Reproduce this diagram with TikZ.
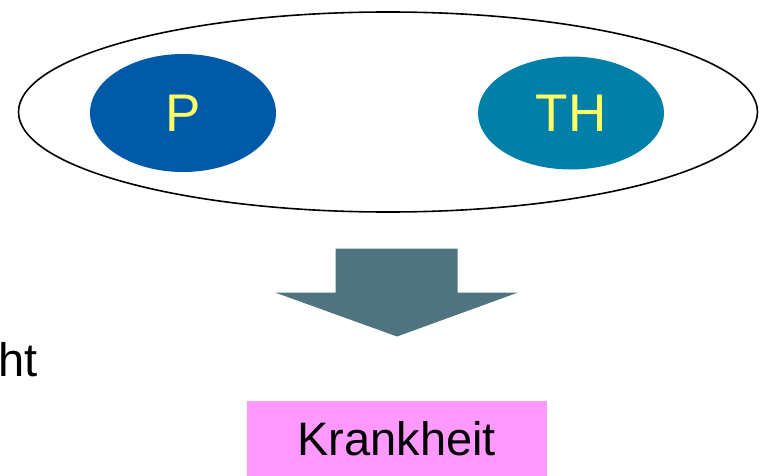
\documentclass[tikz,border=0pt]{standalone}
\usepackage{fontspec}
\setmainfont{Liberation Sans}
\usetikzlibrary{shapes.geometric}
\definecolor{pblue}{HTML}{005AA8}
\definecolor{thteal}{HTML}{007FA8}
\definecolor{arrowgray}{HTML}{4F7480}
\definecolor{txtyellow}{HTML}{FFFF66}
\definecolor{pinkbox}{HTML}{FF99FF}
\begin{document}
\begin{tikzpicture}[x=1pt,y=-1pt,
  blob/.style={ellipse,inner sep=0pt,minimum width=186pt,text=txtyellow,font=\fontsize{53}{58}\selectfont},
  outer/.style={ellipse,draw=black,line width=1.6pt,inner sep=0pt}]
\useasboundingbox (0,0) rectangle (765,476);
\node[outer,minimum width=739pt,minimum height=200pt] (group) at (388,112) {};
\node[blob,fill=pblue,minimum height=118pt] (p) at (183,113) {P};
\node[blob,fill=thteal,minimum height=113pt] (th) at (571,113) {TH};
\fill[arrowgray] (335.5,248.5) -- (457.5,248.5) -- (457.5,292.5) -- (518,292.5) -- (397,336.5) -- (275,292.5) -- (335.5,292.5) -- cycle;
\node[anchor=base east,inner sep=0pt,font=\fontsize{47}{52}\selectfont] (ht) at (38,376.5) {ht};
\node[fill=pinkbox,minimum width=300pt,minimum height=75pt,inner sep=0pt,font=\fontsize{47}{52}\selectfont] (k) at (396.7,438.5) {Krankheit};
\end{tikzpicture}
\end{document}
